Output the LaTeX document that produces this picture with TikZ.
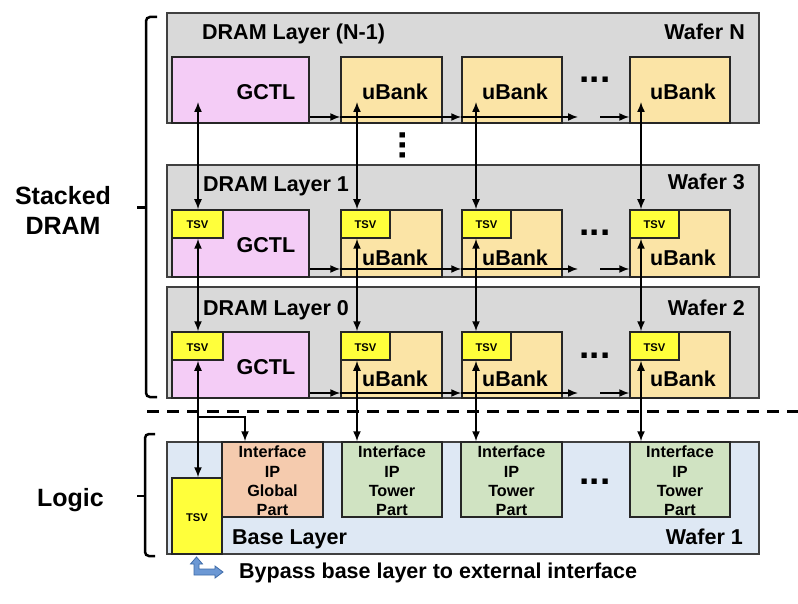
\documentclass[tikz,border=0pt]{standalone}
\usepackage{fontspec}
\setmainfont{Liberation Sans}
\usetikzlibrary{arrows.meta,fit}
\definecolor{wafergray}{HTML}{D9D9D9}
\definecolor{waferline}{HTML}{404040}
\definecolor{boxline}{HTML}{262626}
\definecolor{gctlpink}{HTML}{F4CCF6}
\definecolor{ubankyel}{HTML}{FBE4A6}
\definecolor{tsvyel}{HTML}{FFFF3B}
\definecolor{baseblue}{HTML}{DEE8F4}
\definecolor{glbpeach}{HTML}{F5CBAE}
\definecolor{twrgreen}{HTML}{D0E3C2}
\definecolor{bpfill}{HTML}{6C98D4}
\definecolor{bpline}{HTML}{3E6BA8}
\begin{document}
\begin{tikzpicture}[x=1pt,y=-1pt,
  wafer/.style={draw=waferline, fill=wafergray, line width=1.5pt, inner sep=0pt},
  basewafer/.style={wafer, fill=baseblue},
  blk/.style={draw=boxline, line width=1.5pt, inner sep=0pt},
  gctlbox/.style={blk, fill=gctlpink},
  ubox/.style={blk, fill=ubankyel},
  tsvbox/.style={blk, fill=tsvyel},
  glbbox/.style={blk, fill=glbpeach},
  twrbox/.style={blk, fill=twrgreen},
  lbl/.style={font=\fontsize{21.5}{24}\selectfont\bfseries, inner sep=0pt},
  tsvtxt/.style={font=\fontsize{11.2}{13}\selectfont\bfseries, inner sep=0pt, anchor=base},
  iftxt/.style={font=\fontsize{16.2}{19.3}\selectfont\bfseries, inner sep=0pt, align=center},
  side/.style={font=\fontsize{25}{30}\selectfont\bfseries, inner sep=0pt, align=center},
  hdots/.style={font=\fontsize{37}{40}\selectfont\bfseries, inner sep=0pt, anchor=base},
  arr/.style={-{Latex[length=10pt,width=8pt]}, line width=1.5pt},
  biarr/.style={{Latex[length=10pt,width=8pt]}-{Latex[length=10pt,width=8pt]}, line width=1.5pt},
  brace/.style={line width=2.5pt, rounded corners=4pt},
  sepline/.style={line width=3pt, dash pattern=on 12pt off 8pt}
]
\fill[white] (0,0) rectangle (798,604);
\useasboundingbox (0,0) rectangle (798,604);

% ---------- wafers ----------
\node[wafer, fit={(167,13) (759,123)}] (wN) {};
\node[wafer, fit={(167,165) (759,277)}] (w3) {};
\node[wafer, fit={(167,287) (759,398)}] (w2) {};
\node[basewafer, fit={(167,442) (759,554)}] (w1) {};

% ---------- Wafer N ----------
\node[gctlbox, fit={(172,57) (309,123)}] (gN) {};
\node[ubox, fit={(341,57) (442,123)}] (bN1) {};
\node[ubox, fit={(462,57) (562,123)}] (bN2) {};
\node[ubox, fit={(630,57) (730,123)}] (bN3) {};

% ---------- Wafer 3 ----------
\node[gctlbox, fit={(172,210) (309,277)}] (g3) {};
\node[ubox, fit={(341,210) (442,277)}] (b31) {};
\node[ubox, fit={(462,210) (562,277)}] (b32) {};
\node[ubox, fit={(630,210) (730,277)}] (b33) {};
\node[tsvbox, fit={(172,210) (223,238)}] (t30) {};
\node[tsvbox, fit={(341,210) (390,238)}] (t31) {};
\node[tsvbox, fit={(462,210) (511,238)}] (t32) {};
\node[tsvbox, fit={(630,210) (679,238)}] (t33) {};

% ---------- Wafer 2 ----------
\node[gctlbox, fit={(172,332) (309,398)}] (g2) {};
\node[ubox, fit={(341,332) (442,398)}] (b21) {};
\node[ubox, fit={(462,332) (562,398)}] (b22) {};
\node[ubox, fit={(630,332) (730,398)}] (b23) {};
\node[tsvbox, fit={(172,332) (223,360)}] (t20) {};
\node[tsvbox, fit={(341,332) (390,360)}] (t21) {};
\node[tsvbox, fit={(462,332) (511,360)}] (t22) {};
\node[tsvbox, fit={(630,332) (679,360)}] (t23) {};

% ---------- Wafer 1 (base) ----------
\node[tsvbox, fit={(172,478) (222,554)}] (tB) {};
\node[glbbox, fit={(222,442) (323,517)}] (iG) {};
\node[twrbox, fit={(342,442) (442,517)}] (i1) {};
\node[twrbox, fit={(461,442) (562,517)}] (i2) {};
\node[twrbox, fit={(630,442) (730,517)}] (i3) {};

% ---------- labels ----------
\node[lbl, anchor=base west] (lN) at (202,39.5) {DRAM Layer (N-1)};
\node[lbl, anchor=base east] (fN) at (745,39.5) {Wafer N};
\node[lbl, anchor=base] (gtN) at (266,99.3) {GCTL};
\node[lbl, anchor=base] (ut1N) at (395,99.3) {uBank};
\node[lbl, anchor=base] (ut2N) at (515,99.3) {uBank};
\node[lbl, anchor=base] (ut3N) at (683,99.3) {uBank};
\node[hdots] (dN) at (595,83) {...};

\node[lbl, anchor=base west] (l3) at (203,192) {DRAM Layer 1};
\node[lbl, anchor=base east] (f3) at (745,190) {Wafer 3};
\node[lbl, anchor=base] (gt3) at (266,252.3) {GCTL};
\node[lbl, anchor=base] (ut13) at (395,265.3) {uBank};
\node[lbl, anchor=base] (ut23) at (515,265.3) {uBank};
\node[lbl, anchor=base] (ut33) at (683,265.3) {uBank};
\node[tsvtxt] (tt30) at (197.5,229) {TSV};
\node[tsvtxt] (tt31) at (365.5,229) {TSV};
\node[tsvtxt] (tt32) at (486.5,229) {TSV};
\node[tsvtxt] (tt33) at (654.5,229) {TSV};
\node[hdots] (d3) at (595,236) {...};

\node[lbl, anchor=base west] (l2) at (203,315) {DRAM Layer 0};
\node[lbl, anchor=base east] (f2) at (745,315) {Wafer 2};
\node[lbl, anchor=base] (gt2) at (266,374.3) {GCTL};
\node[lbl, anchor=base] (ut12) at (395,386.7) {uBank};
\node[lbl, anchor=base] (ut22) at (515,386.7) {uBank};
\node[lbl, anchor=base] (ut32) at (683,386.7) {uBank};
\node[tsvtxt] (tt20) at (197.5,351.5) {TSV};
\node[tsvtxt] (tt21) at (365.5,351.5) {TSV};
\node[tsvtxt] (tt22) at (486.5,351.5) {TSV};
\node[tsvtxt] (tt23) at (654.5,351.5) {TSV};
\node[hdots] (d2) at (595,358) {...};

\node[tsvtxt] (ttB) at (197,521.5) {TSV};
\node[iftxt] (itG) at (272.5,481) {Interface\\IP\\Global\\Part};
\node[iftxt] (it1) at (392,481) {Interface\\IP\\Tower\\Part};
\node[iftxt] (it2) at (511.5,481) {Interface\\IP\\Tower\\Part};
\node[iftxt] (it3) at (680,481) {Interface\\IP\\Tower\\Part};
\node[hdots] (d1) at (595,484.5) {...};
\node[lbl, anchor=base west] (lB) at (232,544.3) {Base Layer};
\node[lbl, anchor=base east] (f1) at (743,544.3) {Wafer 1};

% vertical dots between wafers
\node[hdots, rotate=90] (vd) at (405.6,145.5) {...};

% ---------- side labels and brackets ----------
\node[side] (sd) at (63,210) {Stacked\\DRAM};
\node[side, anchor=base] (lg) at (70.5,506) {Logic};
\draw[brace] (157,17) -- (146,17) -- (146,397) -- (157,397);
\draw[brace] (137,207.5) -- (146,207.5);
\draw[brace] (155,434) -- (145,434) -- (145,556) -- (155,556);
\draw[brace] (137,496) -- (145,496);

\draw[sepline] (147,411) -- (798,411);

% ---------- connector helper coordinates ----------
\coordinate (c0) at (198,0);
\coordinate (c1) at (357,0);
\coordinate (c2) at (476,0);
\coordinate (c3) at (641,0);
\coordinate (cG) at (245,0);
\coordinate (yN) at (0,117);
\coordinate (y3) at (0,269);
\coordinate (y2) at (0,393);
\coordinate (yBr) at (0,417);
\coordinate (pN0) at (198,102);
\coordinate (pN1) at (357,102);
\coordinate (pN2) at (476,102);
\coordinate (pN3) at (641,102);
\coordinate (eN) at (578,117);
\coordinate (sN) at (600,117);
\coordinate (e3) at (578,269);
\coordinate (s3) at (600,269);
\coordinate (e2) at (578,393);
\coordinate (s2) at (600,393);

% ---------- horizontal arrows ----------
\draw[arr] (gN.east |- yN) -- (bN1.west |- yN);
\draw[arr] (bN1.west |- yN) -- (bN2.west |- yN);
\draw[arr] (bN2.west |- yN) -- (eN);
\draw[arr] (sN) -- (bN3.west |- yN);

\draw[arr] (g3.east |- y3) -- (b31.west |- y3);
\draw[arr] (b31.west |- y3) -- (b32.west |- y3);
\draw[arr] (b32.west |- y3) -- (e3);
\draw[arr] (s3) -- (b33.west |- y3);

\draw[arr] (g2.east |- y2) -- (b21.west |- y2);
\draw[arr] (b21.west |- y2) -- (b22.west |- y2);
\draw[arr] (b22.west |- y2) -- (e2);
\draw[arr] (s2) -- (b23.west |- y2);

% ---------- vertical arrows ----------
\draw[biarr] (pN0) -- (t30.north -| c0);
\draw[biarr] (pN1) -- (t31.north -| c1);
\draw[biarr] (pN2) -- (t32.north -| c2);
\draw[biarr] (pN3) -- (t33.north -| c3);

\draw[biarr] (t30.south -| c0) -- (t20.north -| c0);
\draw[biarr] (t31.south -| c1) -- (t21.north -| c1);
\draw[biarr] (t32.south -| c2) -- (t22.north -| c2);
\draw[biarr] (t33.south -| c3) -- (t23.north -| c3);

\draw[biarr] (t20.south -| c0) -- (tB.north -| c0);
\draw[arr] (yBr -| c0) -| (iG.north -| cG);
\draw[biarr] (t21.south -| c1) -- (i1.north -| c1);
\draw[biarr] (t22.south -| c2) -- (i2.north -| c2);
\draw[biarr] (t23.south -| c3) -- (i3.north -| c3);

% ---------- bypass ----------
\filldraw[fill=bpfill, draw=bpline, line width=0.8pt]
  (196.5,557) -- (202.5,564) -- (199,564) -- (199,569) -- (215,569) -- (215,566)
  -- (223,572) -- (215,578) -- (215,575) -- (194,575) -- (194,564) -- (190.5,564) -- cycle;
\node[lbl, anchor=base west] (bp) at (239,578) {Bypass base layer to external interface};

\end{tikzpicture}
\end{document}
